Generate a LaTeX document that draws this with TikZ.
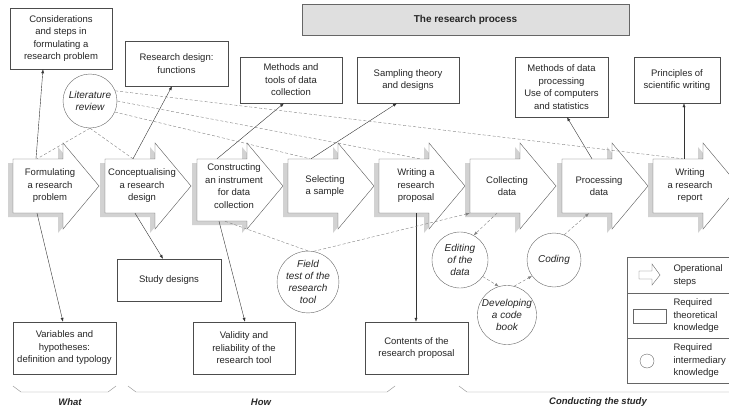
\documentclass[tikz,border=0pt]{standalone}
\usepackage{fontspec}
\setmainfont{Liberation Sans}
\usetikzlibrary{arrows.meta}

\tikzset{
  theory/.style={draw=black!70, fill=white, align=center, inner sep=1pt},
  interm/.style={circle, draw=black!60, fill=white, align=center, inner sep=0pt, font=\itshape},
  stepbody/.style={rectangle, minimum width=50pt, inner sep=0pt},
  steptext/.style={align=center},
  conn/.style={-{Latex[length=4pt,width=3pt]}, black!80},
  link/.style={black!50, dash pattern=on 3pt off 2pt},
  linkarrow/.style={link, -{Latex[length=4pt,width=3pt]}},
  brace/.style={black!45},
}

% operational step: [body bottom]{name}{left x}{text}
\newcommand{\opstep}[4][213]{%
  \fill[gray!35] (#3-5,163) -- (#3+45,163) -- (#3+45,147) -- (#3+81,190) -- (#3+45,233) -- (#3+45,#1+4) -- (#3-5,#1+4) -- cycle;
  \draw[black!65, fill=white] (#3,159) -- (#3+50,159) -- (#3+50,143) -- (#3+86,186) -- (#3+50,229) -- (#3+50,#1) -- (#3,#1) -- cycle;
  \node[stepbody, minimum height={#1-159}] (#2) at (#3+25,{(159+#1)/2}) {};
  \node[steptext] at (#3+37,186) {#4};
}

\begin{document}
\begin{tikzpicture}[x=1pt, y=-1pt, font=\fontsize{9.5}{12.5}\selectfont, text=black!85]
\useasboundingbox (0,0) rectangle (729,407);
\clip (0,0) rectangle (729,407);

% title
\node[draw=black!60, fill=gray!25, minimum width=327pt, minimum height=31pt, font=\fontsize{10}{12}\selectfont\bfseries] (title) at (465.5,19.5) {The research process};

% operational steps
\opstep{form}{13}{Formulating\\a research\\problem}
\opstep{concept}{105}{Conceptualising\\a research\\design}
\opstep[221]{constr}{197}{Constructing\\an instrument\\for data\\collection}
\opstep{select}{288}{Selecting\\a sample}
\opstep{proposal}{379}{Writing a\\research\\proposal}
\opstep{collect}{470}{Collecting\\data}
\opstep{process}{562}{Processing\\data}
\opstep{report}{653}{Writing\\a research\\report}

% theoretical knowledge
\node[theory, minimum width=102pt, minimum height=61pt] (consid) at (61,38.5) {Considerations\\and steps in\\formulating a\\research problem};
\node[theory, minimum width=103pt, minimum height=45pt] (rdfunc) at (176.5,63.5) {Research design:\\functions};
\node[theory, minimum width=102pt, minimum height=46pt] (methtools) at (291,80) {Methods and\\tools of data\\collection};
\node[theory, minimum width=102pt, minimum height=46pt] (sampling) at (408,80) {Sampling theory\\and designs};
\node[theory, minimum width=93pt, minimum height=60pt] (methproc) at (561.5,87) {Methods of data\\processing\\Use of computers\\and statistics};
\node[theory, minimum width=86pt, minimum height=46pt] (principles) at (677,80) {Principles of\\scientific writing};
\node[theory, minimum width=103pt, minimum height=52pt] (vars) at (64.5,348) {Variables and\\hypotheses:\\definition and typology};
\node[theory, minimum width=104pt, minimum height=42pt] (studydes) at (169,280) {Study designs};
\node[theory, minimum width=102pt, minimum height=52pt] (validity) at (244,348) {Validity and\\reliability of the\\research tool};
\node[theory, minimum width=103pt, minimum height=52pt] (contents) at (416.5,348) {Contents of the\\research proposal};

% intermediary knowledge
\node[interm, minimum size=54pt] (litrev) at (90,101) {Literature\\review};
\node[interm, minimum size=56pt] (fieldtest) at (308,282) {Field\\test of the\\research\\tool};
\node[interm, minimum size=56pt] (editing) at (460,260) {Editing\\of the\\data};
\node[interm, minimum size=54pt] (coding) at (554,260) {Coding};
\node[interm, minimum size=56pt] (devbook) at (507,315) {Developing\\a code\\book};

% steps to theory
\draw[conn] ([xshift=-2pt]form.north) -- ([xshift=-18pt]consid.south);
\draw[conn] ([xshift=-1pt]form.south) -- ([xshift=-1.5pt]vars.north);
\draw[conn] ([xshift=3pt]concept.north) -- ([xshift=-4.5pt]rdfunc.south);
\draw[conn] ([xshift=5pt]concept.south) -- ([xshift=-6pt]studydes.north);
\draw[conn] ([xshift=-5pt]constr.north) -- ([xshift=-7pt]methtools.south);
\draw[conn] ([xshift=-3pt]constr.south) -- ([xshift=1pt]validity.north);
\draw[conn] ([xshift=-2pt]select.north) -- ([xshift=-11pt]sampling.south);
\draw[conn] ([xshift=12pt]proposal.south) -- ([xshift=-0.5pt]contents.north);
\draw[conn] ([xshift=5pt]process.north) -- ([xshift=5.5pt]methproc.south);
\draw[conn] ([xshift=6pt]report.north) -- ([xshift=7pt]principles.south);

% literature review
\draw[link] (litrev.south) -- ([xshift=-1pt]form.north);
\draw[link] (litrev.south) -- ([xshift=3pt]concept.north);
\draw[link] (litrev.22) -- ([xshift=5pt]report.north);
\draw[link] (litrev.0) -- ([xshift=16pt]proposal.north);
\draw[link] (litrev.-24) -- ([xshift=-3pt]select.north);

% intermediary steps
\draw[link] ([xshift=3pt]constr.south) -- (fieldtest.north);
\draw[linkarrow] (fieldtest.80) -- (collect.south west);
\draw[linkarrow] ([xshift=2pt]collect.south) -- (editing.61);
\draw[linkarrow] (editing.-36) -- (devbook.106);
\draw[linkarrow] (devbook.76) -- (coding.216);
\draw[linkarrow] (coding.68) -- ([xshift=2pt]process.south);

% legend
\draw[black!60] (627,257) rectangle (735,383);
\draw[black!60] (627,293) -- (735,293);
\draw[black!60] (627,338) -- (735,338);
\draw[black!60] (639,271) -- (652,271) -- (652,264) -- (660,275) -- (652,285) -- (652,279) -- (639,279) -- cycle;
\draw[black!60] (633,309) rectangle (666,323);
\draw[black!60] (647,361) circle (7);
\node[anchor=west, align=left] (legstep) at (670,275.5) {Operational\\steps};
\node[anchor=west, align=left] (legtheory) at (670,316) {Required\\theoretical\\knowledge};
\node[anchor=west, align=left] (leginterm) at (670,361) {Required\\intermediary\\knowledge};

% phases
\draw[brace] (13,386) -- (21,392) -- (108,392) -- (116,386);
\draw[brace] (128,386) -- (136,392) -- (387,392) -- (395,386);
\draw[brace] (459,386) -- (467,392) -- (735,392);
\node[font=\fontsize{9.5}{12}\selectfont\bfseries\itshape] (what) at (70,402) {What};
\node[font=\fontsize{9.5}{12}\selectfont\bfseries\itshape] (how) at (261,402) {How};
\node[font=\fontsize{9.5}{12}\selectfont\bfseries\itshape] (conduct) at (598,402) {Conducting the study};
\end{tikzpicture}
\end{document}
